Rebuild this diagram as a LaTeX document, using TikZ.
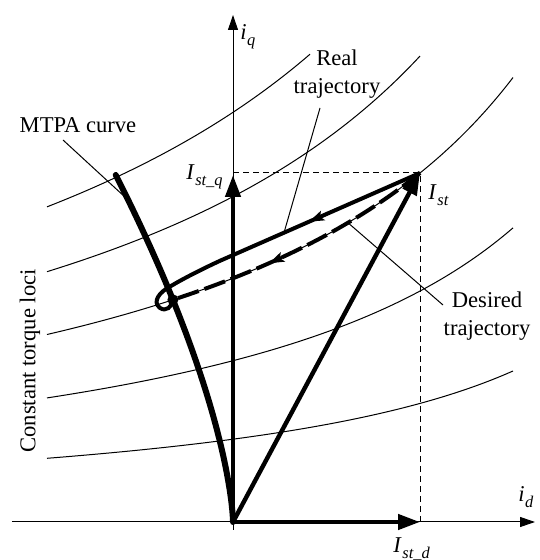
\documentclass[tikz,border=0pt]{standalone}
\usepackage{fontspec}
\setmainfont{Liberation Serif}
\usetikzlibrary{arrows.meta}
\newcommand{\Isub}[1]{\textit{I}\kern0.3pt\raisebox{-0.5ex}{\fontsize{8.2}{9}\selectfont\itshape #1}}
\newcommand{\isub}[1]{\textit{i}\kern0.2pt\raisebox{-0.5ex}{\fontsize{8.2}{9}\selectfont\itshape #1}}
\begin{document}
\begin{tikzpicture}[x=0.5pt,y=0.5pt,
  thinline/.style={line width=0.5pt},
  guide/.style={line width=0.5pt, dash pattern=on 3pt off 2pt},
  axis/.style={line width=0.5pt, -{Triangle[length=7.5pt,width=5pt]}},
  vec/.style={line width=2.2pt, -{Triangle[length=11pt,width=7.5pt]}},
  traj/.style={line width=2pt},
  midtip/.style={line width=1.5pt, -{Stealth[length=7.5pt,width=5pt,inset=1.5pt]}},
  lbl/.style={font=\fontsize{11.3}{14}\selectfont, inner sep=0pt, align=center}
]
\useasboundingbox (-233,-38) rectangle (306,522);
% key points
\coordinate (O) at (0,0);
\coordinate (Ist) at (187,349);
\coordinate (Iq) at (0,347);
\coordinate (Id) at (187,0);
\coordinate (M) at (-60.1,222.2);
% constant torque loci
\foreach \cc/\aa/\bb in {2540/-186/77, 2017.5/-186/187, 1511.17/-186/280, 1000/-186/280, 513.45/-186/280}
  \draw[thinline] plot[domain=\aa:\bb, samples=80, smooth] (\x, {\cc/(6.2-\x/100)});
% guides
\draw[guide] (O |- Ist) -- (Ist) -- (Ist |- O);
% axes
\draw[axis] (-221,0) -- (302,0);
\draw[axis] (0,-8) -- (0,507);
% MTPA curve
\draw[line width=3pt, line cap=round] plot[domain=0:347, samples=60] ({-0.01814*\x*sqrt(\x)}, \x);
% desired trajectory
\draw[traj, dash pattern=on 11pt off 3pt] plot[domain=187:-60, samples=40] (\x, {1511.17/(6.2-\x/100)});
\coordinate (dA) at (56,267.9);
\coordinate (dB) at (36,258.7);
\draw[midtip] (dA) -- (dB);
% real trajectory
\draw[traj] (Ist) -- (-13,261.2) .. controls (-35,251) and (-52,242) .. (-62,236) .. controls (-74,230) and (-81,220) .. (-73,214) .. controls (-67,210) and (-61,215) .. (M);
\coordinate (rA) at (96,309.1);
\coordinate (rB) at (76,300.3);
\draw[midtip] (rA) -- (rB);
% vectors
\draw[vec] (O) -- (Iq);
\draw[vec] (O) -- (Id);
\draw[vec] (O) -- (Ist);
\fill (M) circle (5.5);
% labels
\node[lbl, anchor=base west] (iq) at (7,482) {\isub{q}};
\node[lbl, anchor=base west] (id) at (285,20) {\isub{d}};
\node[lbl, anchor=base east] (Istq) at (-10,342) {\Isub{st\_q}};
\node[lbl, anchor=base west] (IstL) at (195,322) {\Isub{st}};
\node[lbl, anchor=base west] (Istd) at (160,-31) {\Isub{st\_d}};
\node[lbl] (mtpa) at (-155,397) {MTPA curve};
\node[lbl] (real) at (104,448) {Real\\trajectory};
\node[lbl] (des) at (254,206) {Desired\\trajectory};
\node[lbl, rotate=90] (ctl) at (-203,161) {Constant torque loci};
% leaders
\coordinate (mtpaS) at (-170,382);
\coordinate (mtpaE) at (-104.8,322);
\coordinate (realS) at (87,414);
\coordinate (realE) at (51,289.3);
\coordinate (desS) at (210,217);
\coordinate (desE) at (115,299.2);
\draw[thinline] (mtpaS) -- (mtpaE);
\draw[thinline] (realS) -- (realE);
\draw[thinline] (desS) -- (desE);
\end{tikzpicture}
\end{document}
